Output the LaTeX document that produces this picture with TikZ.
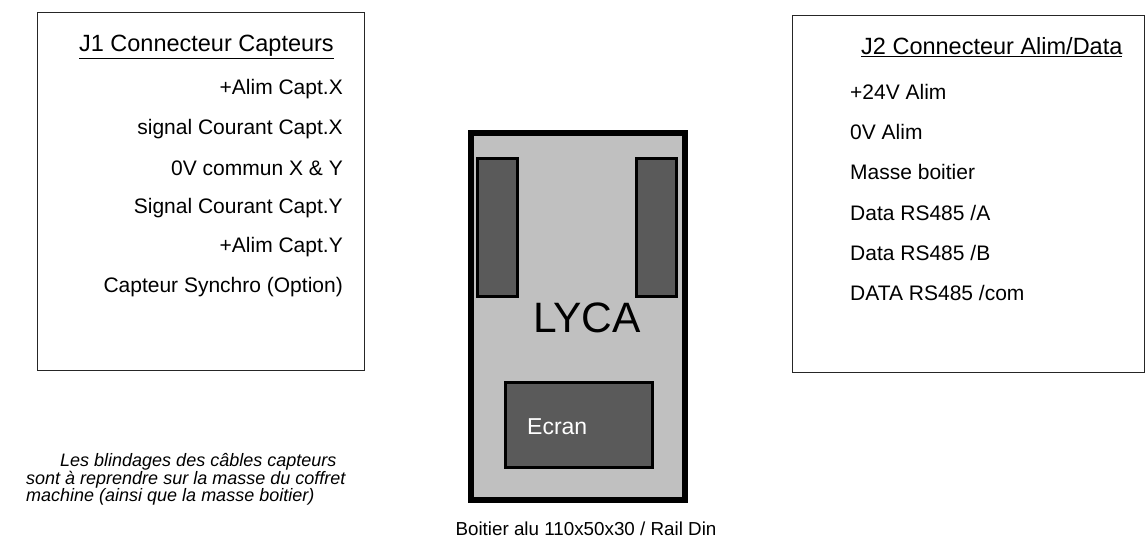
\documentclass[tikz,border=0pt]{standalone}
\usepackage{fontspec}
\setmainfont{Liberation Sans}
\definecolor{boxgray}{HTML}{C0C0C0}
\definecolor{darkgray2}{HTML}{5A5A5A}
\tikzset{
  item/.style={inner sep=0pt, font=\fontsize{21}{25}\selectfont},
  ttl/.style={inner sep=0pt, font=\fontsize{23.5}{28}\selectfont},
  frame/.style={draw=black!85, line width=1pt},
  conn/.style={draw=black, line width=3pt, fill=darkgray2},
}
\begin{document}
\begin{tikzpicture}[x=1pt,y=-1pt]
\useasboundingbox (0,0) rectangle (1145,538);
% J1 box
\draw[frame] (37,12) rectangle (364,370);
\node[ttl, anchor=east] (j1t) at (334,47) {\underline{J1 Connecteur Capteurs}};
\foreach \t [count=\i from 0] in {+Alim Capt.X, signal Courant Capt.X, 0V commun X \& Y, Signal Courant Capt.Y, +Alim Capt.Y, Capteur Synchro (Option)}
  \node[item, anchor=east] (j1i\i) at (343,89+39.6*\i) {\t};
% J2 box
\draw[frame] (792,15) rectangle (1144,372);
\node[ttl, anchor=west] (j2t) at (861,47) {\underline{J2 Connecteur Alim/Data}};
\foreach \t [count=\i from 0] in {+24V Alim, 0V Alim, Masse boitier, Data RS485 /A, Data RS485 /B, DATA RS485 /com}
  \node[item, anchor=west] (j2i\i) at (850,92+40.2*\i) {\t};
% LYCA box
\draw[line width=6pt, fill=boxgray] (471,132.5) rectangle (684.5,499.5);
\draw[conn] (477.5,158.5) rectangle (517.5,296.5);
\draw[conn] (636.5,158.5) rectangle (676.5,296.5);
\draw[conn] (505.5,382.5) rectangle (652.5,467.5);
\node[inner sep=0pt, font=\fontsize{42.5}{48}\selectfont] (lyca) at (587,318) {LYCA};
\node[inner sep=0pt, anchor=west, text=white, font=\fontsize{23}{27}\selectfont] (ecran) at (527,427) {Ecran};
\node[inner sep=0pt, font=\fontsize{18.8}{22}\selectfont] (cap) at (586,529) {Boitier alu 110x50x30 / Rail Din};
% note
\node[inner sep=0pt, anchor=north west, align=left, font=\fontsize{18}{16.8}\selectfont\itshape] (note) at (26,453)
  {\hspace*{34pt}Les blindages des câbles capteurs\\sont à reprendre sur la masse du coffret\\machine (ainsi que la masse boitier)};
\end{tikzpicture}
\end{document}
